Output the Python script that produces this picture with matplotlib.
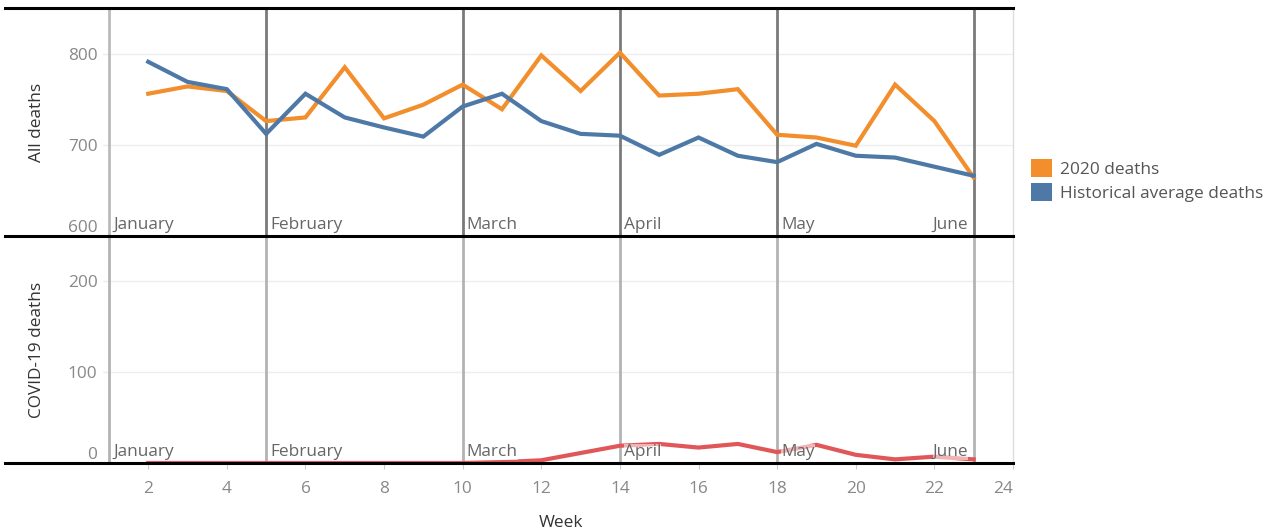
import numpy as np
import matplotlib
matplotlib.use("Agg")
import matplotlib.pyplot as plt
from matplotlib.patches import Patch
from matplotlib.transforms import blended_transform_factory

plt.rcParams['font.family'] = ['Open Sans', 'DejaVu Sans']

# data
weeks = list(range(2, 24))
deaths_2020 = [756, 764, 759, 726, 730, 785, 729, 744, 766, 739, 798, 759,
               801, 754, 756, 761, 711, 708, 699, 766, 726, 664]
hist_avg = [791, 769, 761, 712, 756, 730, 719, 709, 742, 756, 726, 712,
            710, 689, 708, 688, 681, 701, 688, 686, 676, 666]
covid_deaths = [0, 0, 0, 0, 0, 0, 0, 0, 0, 1, 3, 11,
                19, 21, 17, 21, 12, 20, 9, 4, 7, 4]
month_weeks = [1, 5, 10, 14, 18, 23]
month_names = ['January', 'February', 'March', 'April', 'May', 'June']
x_ticks = [2, 4, 6, 8, 10, 12, 14, 16, 18, 20, 22, 24]

ORANGE = '#F28E2B'
BLUE = '#4E79A7'
RED = '#E15759'
W, H = 1266, 532
FS = 12.4

fig = plt.figure(figsize=(W / 100, H / 100), dpi=100)
ax1 = fig.add_axes([103 / W, (H - 236) / H, 910 / W, 228 / H])
ax2 = fig.add_axes([103 / W, (H - 463) / H, 910 / W, 227 / H], sharex=ax1)

for ax in (ax1, ax2):
    ax.set_xlim(0.85, 24.0)
    ax.patch.set_visible(False)
    for s in ['left', 'top', 'bottom']:
        ax.spines[s].set_visible(False)
    ax.spines['right'].set_color('#dddddd')
    ax.spines['right'].set_linewidth(1)
    ax.grid(axis='y', color='#eeeeee', linewidth=1)
    ax.set_axisbelow(True)
    ax.tick_params(axis='y', length=0, pad=4, labelsize=FS, labelcolor='#888888')

ax1.set_ylim(600, 850)
ax1.set_yticks([600, 700, 800])
ax2.set_ylim(0, 250)
ax2.set_yticks([0, 100, 200])
for ax in (ax1, ax2):
    ax.get_yticklabels()[0].set_va('bottom')

ax1.tick_params(axis='x', bottom=False, labelbottom=False)
ax2.set_xticks(x_ticks)
ax2.tick_params(axis='x', length=4, color='#cccccc', pad=9, labelsize=FS, labelcolor='#888888')
ax2.get_xticklabels()[-1].set_ha('right')

# month separators
for i, (mw, name) in enumerate(zip(month_weeks, month_names)):
    c1 = '#bbbbbb' if i == 0 else '#7a7a7a'
    ax1.axvline(mw, color=c1, lw=2, zorder=1)
    ax2.axvline(mw, color='#b3b3b3', lw=2, zorder=1)

ax1.plot(weeks, deaths_2020, color=ORANGE, lw=3, zorder=3, solid_joinstyle='miter')
ax1.plot(weeks, hist_avg, color=BLUE, lw=3, zorder=3, solid_joinstyle='miter')
ax2.plot(weeks, covid_deaths, color=RED, lw=3, zorder=3, solid_joinstyle='miter')

for ax in (ax1, ax2):
    tr = blended_transform_factory(ax.transData, ax.transAxes)
    for mw, name in zip(month_weeks, month_names):
        if name == 'June':
            dx, ha = -4, 'right'
        else:
            dx, ha = 3, 'left'
        ax.annotate(name, (mw, 0.012), xycoords=tr, xytext=(dx, 0),
                    textcoords='offset points', ha=ha, va='bottom',
                    fontsize=FS, color='#666666', zorder=4,
                    bbox=dict(facecolor='white', alpha=0.55, edgecolor='none', pad=0))

# heavy black rules
ax1.plot([-0.108, 1], [1, 1], transform=ax1.transAxes, color='black', lw=2.2, clip_on=False, zorder=5)
ax2.plot([-0.108, 1], [1, 1], transform=ax2.transAxes, color='black', lw=2.2, clip_on=False, zorder=5)
ax2.plot([-0.108, 1], [0, 0], transform=ax2.transAxes, color='black', lw=2.2, clip_on=False, zorder=5)

ax1.set_ylabel('All deaths', fontsize=FS, color='#333333')
ax2.set_ylabel('COVID-19 deaths', fontsize=FS, color='#333333')
ax1.yaxis.set_label_coords(-0.064, 0.5)
ax2.yaxis.set_label_coords(-0.064, 0.5)
ax2.set_xlabel('Week', fontsize=FS, color='#333333')
ax2.xaxis.set_label_coords(0.503, -0.23)

handles = [Patch(facecolor=ORANGE, label='2020 deaths'),
           Patch(facecolor=BLUE, label='Historical average deaths')]
fig.legend(handles=handles, loc='upper left', bbox_to_anchor=(1024 / W, (H - 152) / H),
           frameon=False, fontsize=FS, handlelength=1.25, handleheight=1.25,
           handletextpad=0.45, labelspacing=0.3, labelcolor='#555555', borderaxespad=0)

fig.savefig('out.png', dpi=100)
